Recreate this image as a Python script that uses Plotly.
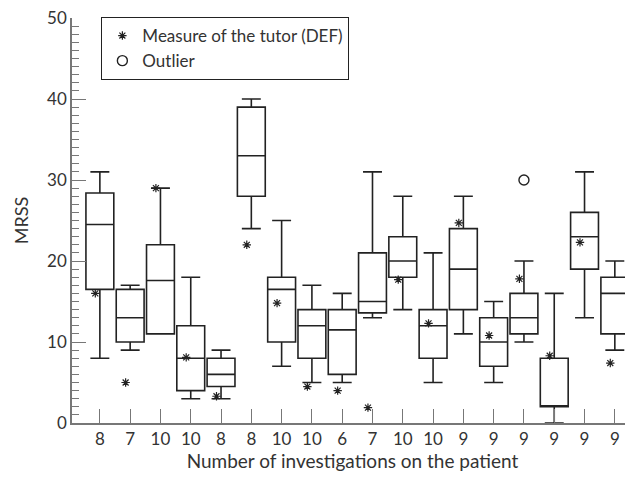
import plotly.graph_objects as go

tick_labels = ["8", "7", "10", "10", "8", "8", "10", "10", "6", "7", "10", "10", "9", "9", "9", "9", "9", "9"]
positions = list(range(1, 19))

upper = [31, 17, 29, 18, 9, 40, 25, 17, 16, 31, 28, 21, 28, 15, 20, 16, 31, 20]
q3 =    [28.4, 16.5, 22, 12, 8, 39, 18, 14, 14, 21, 23, 14, 24, 13, 16, 8, 26, 18]
median= [24.5, 13, 17.6, 8, 6, 33, 16.5, 12, 11.5, 15, 20, 12, 19, 10, 13, 2, 23, 16]
q1 =    [16.5, 10, 11, 4, 4.5, 28, 10, 8, 6, 13.6, 18, 8, 14, 7, 11, 2, 19, 11]
lower = [8, 9, 11, 3, 3, 24, 7, 5, 5, 13, 14, 5, 11, 5, 10, 0, 13, 9]

tutor = [16, 5, 29, 8.1, 3.3, 22, 14.8, 4.5, 4, 1.9, 17.7, 12.3, 24.7, 10.8, 17.8, 8.3, 22.3, 7.4]

outlier_pos = [15]
outlier_val = [30]

FONT = "Lato"
fig = go.Figure()

fig.add_trace(go.Box(
    x=positions, q1=q1, median=median, q3=q3,
    lowerfence=lower, upperfence=upper,
    width=0.92, whiskerwidth=0.68,
    line=dict(color="#222222", width=1.6),
    fillcolor="rgba(255,255,255,0)",
    boxpoints=False, showlegend=False, hoverinfo="skip",
))

fig.add_trace(go.Scatter(
    x=[p - 0.15 for p in positions], y=tutor, mode="markers",
    name="Measure of the tutor (DEF)",
    marker=dict(symbol="asterisk-open", size=7, color="#222222",
                line=dict(color="#222222", width=1.2)),
))

fig.add_trace(go.Scatter(
    x=outlier_pos, y=outlier_val, mode="markers", name="Outlier",
    marker=dict(symbol="circle-open", size=10, color="#222222",
                line=dict(color="#222222", width=1.4)),
))

# page body has an 8px default margin; compensate so the plot lands where the reference has it
fig.update_layout(
    width=625, height=470,
    margin=dict(l=64, r=0, t=10, b=55),
    plot_bgcolor="white", paper_bgcolor="white",
    font=dict(family=FONT, size=17, color="#333333"),
    legend=dict(
        x=0.052, y=1.003, xanchor="left", yanchor="top",
        bordercolor="#222222", borderwidth=1.2, bgcolor="white",
        font=dict(size=17), itemwidth=30, tracegroupgap=0,
    ),
    xaxis=dict(
        range=[0.08, 18.6], tickmode="array", tickvals=positions, ticktext=tick_labels,
        ticks="inside", ticklen=14, tickwidth=1.3, tickcolor="#777777",
        showline=True, linecolor="#777777", linewidth=1.5,
        showgrid=False, zeroline=False, automargin=False,
        ticklabeloverflow="allow",
        title=dict(text="Number of investigations on the patient", standoff=6,
                   font=dict(size=19)),
        tickfont=dict(size=17),
    ),
    yaxis=dict(
        range=[0, 50], tickvals=[0, 10, 20, 30, 40, 50],
        ticks="inside", ticklen=14, tickwidth=1.3, tickcolor="#777777",
        minor=dict(dtick=1, ticks="inside", ticklen=7, tickcolor="#777777", tickwidth=1),
        showline=True, linecolor="#777777", linewidth=1.5,
        showgrid=False, zeroline=False, automargin=False,
        ticklabeloverflow="allow",
        title=dict(text="MRSS", standoff=14, font=dict(size=18)),
        tickfont=dict(size=17),
    ),
)

fig.write_html("out.html")
